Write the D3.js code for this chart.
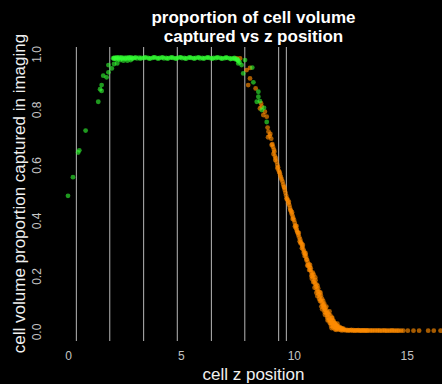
<!DOCTYPE html>
<html>
<head>
<meta charset="utf-8">
<script src="https://cdn.jsdelivr.net/npm/d3@7"></script>
<style>
  body { margin: 0; background: #000; }
  svg { display: block; font-family: "Liberation Sans", Arial, sans-serif; }
</style>
</head>
<body>
<svg id="mainSvg" width="442" height="384"></svg>
<script>
// slice boundaries (z)
var sliceLines = [0.37, 1.85, 3.35, 4.84, 6.35, 7.83, 9.33, 9.67];

var xTicks = [0, 5, 10, 15];
var yTicks = [0, 0.2, 0.4, 0.6, 0.8, 1.0];

// cells that are mostly inside the stack (green)
var greenZ = [0.0, 0.22, 0.45, 0.50, 0.78, 1.34, 1.42, 1.49, 1.49, 1.56, 1.71, 1.79, 1.79, 1.94, 2.04, 2.05,
  2.13, 2.18, 2.30, 2.45, 2.63, 2.78,
  2.00, 2.06, 2.12, 2.20, 2.27, 2.35, 2.42, 2.50, 2.58, 2.65, 2.73, 2.80, 2.88, 2.95, 3.05, 3.15, 3.25, 3.35,
  3.45, 3.55, 3.65, 3.75, 3.85, 3.95, 4.05, 4.15, 4.25, 4.35, 4.45, 4.55, 4.65, 4.75, 4.85, 4.95, 5.05, 5.15,
  5.25, 5.35, 5.45, 5.55, 5.65, 5.75, 5.85, 5.95, 6.05, 6.15, 6.25, 6.35, 6.45, 6.55, 6.65, 6.75, 6.85, 6.95,
  7.05, 7.15, 7.25, 7.33, 7.40, 7.46, 7.52, 7.55, 7.60,
  2.03, 2.16, 2.24, 2.38, 2.54, 2.69, 2.84, 3.00, 3.20, 3.40, 3.60, 3.80, 4.00, 4.20, 4.40, 4.60, 4.80, 5.00,
  5.20, 5.40, 5.60, 5.80, 6.00, 6.20, 6.40, 6.60, 6.80, 7.00, 7.20, 7.37, 7.49,
  7.54, 7.69, 7.76, 7.84, 8.16, 8.21, 8.43, 8.43, 8.50, 8.36, 8.68, 8.58, 8.80];
var greenProp = [0.489, 0.556, 0.645, 0.653, 0.724, 0.828, 0.873, 0.888, 0.867, 0.922, 0.916, 0.934, 0.960, 0.948, 0.964, 0.984,
  0.981, 0.966, 0.978, 0.976, 0.976, 0.978,
  0.985, 0.987, 0.984, 0.986, 0.988, 0.985, 0.983, 0.986, 0.987, 0.984, 0.986, 0.988, 0.985, 0.986, 0.984, 0.987, 0.986, 0.985,
  0.987, 0.986, 0.984, 0.986, 0.988, 0.985, 0.986, 0.987, 0.984, 0.986, 0.985, 0.987, 0.986, 0.984, 0.986, 0.988, 0.985, 0.986,
  0.984, 0.987, 0.986, 0.985, 0.986, 0.987, 0.984, 0.986, 0.985, 0.987, 0.986, 0.984, 0.986, 0.985, 0.987, 0.986, 0.984, 0.985,
  0.986, 0.985, 0.983, 0.984, 0.982, 0.980, 0.978, 0.975, 0.970,
  0.983, 0.988, 0.982, 0.988, 0.983, 0.988, 0.983, 0.988, 0.983, 0.988, 0.983, 0.988, 0.983, 0.988, 0.983, 0.988, 0.983, 0.988,
  0.983, 0.988, 0.983, 0.988, 0.983, 0.988, 0.983, 0.988, 0.983, 0.988, 0.982, 0.986, 0.981,
  0.966, 0.960, 0.930, 0.978, 0.951, 0.898, 0.864, 0.846, 0.830, 0.828, 0.806, 0.798, 0.755];

// cells cut by the top of the stack (orange)
var orangeZ = [7.47, 7.62, 7.91, 8.06, 7.98, 8.31, 8.55, 8.58, 8.72, 8.65, 8.80, 8.50, 8.06,
  8.84, 8.88, 8.93, 8.86, 8.96, 9.00,
  9.05, 9.08, 9.12, 9.10, 9.16, 9.20, 9.14,
  9.24, 9.27, 9.30, 9.33, 9.36, 9.40, 9.43, 9.38,
  9.50, 9.53, 9.56, 9.60, 9.63, 9.66, 9.70, 9.73,
  9.76, 9.80, 9.83, 9.87, 9.90, 9.94, 9.97, 10.01, 9.92,
  10.04, 10.07, 10.10, 10.13, 10.17, 10.20, 10.24, 10.28, 10.12, 10.22,
  10.32, 10.35, 10.38, 10.42, 10.46, 10.50, 10.54, 10.58, 10.40, 10.52, 10.36,
  10.62, 10.66, 10.70, 10.73, 10.77, 10.81, 10.85, 10.60, 10.75, 10.68, 10.88, 10.80,
  10.90, 10.94, 10.98, 11.02, 11.06, 11.10, 11.15, 10.92, 11.05, 11.00, 11.18, 11.12, 10.96,
  11.20, 11.24, 11.28, 11.33, 11.37, 11.42, 11.47, 11.52, 11.22, 11.30, 11.35, 11.40, 11.45, 11.26, 11.50, 11.55, 11.38,
  11.58, 11.62, 11.66, 11.70, 11.75, 11.80, 11.86, 11.92, 12.00, 12.08, 11.60, 11.68, 11.72, 11.78, 11.84, 11.90,
  11.95, 12.02, 12.10, 12.18, 11.50, 11.65, 11.82, 12.15, 12.25,
  9.02, 9.18, 9.28, 9.46, 9.58, 9.68, 9.78, 9.85, 9.95, 10.05, 10.15, 10.26, 10.30, 10.44, 10.48, 10.56,
  10.64, 10.72, 10.78, 10.84, 10.86, 10.95, 11.00, 11.04, 11.08, 11.14, 11.16, 11.20, 11.25, 11.32, 11.36,
  11.44, 11.48, 11.55, 11.58, 11.62, 11.64, 11.70, 11.74, 11.76, 11.82, 11.88, 11.93, 11.98, 12.05, 12.12,
  11.68, 11.88, 12.20,
  12.30, 12.35, 12.40, 12.45, 12.50, 12.55, 12.60, 12.65, 12.70, 12.75, 12.80, 12.85, 12.90, 12.95, 13.00,
  13.05, 13.10, 13.15, 13.20, 13.25, 13.30, 13.38, 13.45, 13.52, 13.60, 13.68, 13.75, 13.82, 13.90, 13.98,
  14.05, 14.12, 14.20, 14.28, 14.35, 14.42, 14.50, 14.58, 14.65, 14.75, 14.85, 15.05, 15.30, 15.55, 15.95,
  16.20, 16.50];
var orangeProp = [0.984, 0.984, 0.942, 0.912, 0.888, 0.876, 0.822, 0.810, 0.792, 0.780, 0.774, 0.804, 0.950,
  0.735, 0.720, 0.705, 0.700, 0.712, 0.695,
  0.675, 0.665, 0.655, 0.640, 0.632, 0.625, 0.648,
  0.612, 0.600, 0.592, 0.580, 0.575, 0.562, 0.555, 0.570,
  0.540, 0.530, 0.522, 0.510, 0.500, 0.490, 0.480, 0.472,
  0.462, 0.455, 0.445, 0.435, 0.425, 0.418, 0.410, 0.402, 0.430,
  0.392, 0.382, 0.372, 0.366, 0.356, 0.348, 0.340, 0.332, 0.380, 0.355,
  0.322, 0.315, 0.305, 0.296, 0.288, 0.278, 0.270, 0.260, 0.312, 0.282, 0.300,
  0.250, 0.242, 0.232, 0.222, 0.214, 0.204, 0.195, 0.238, 0.228, 0.222, 0.205, 0.190,
  0.180, 0.172, 0.162, 0.152, 0.143, 0.134, 0.125, 0.158, 0.165, 0.140, 0.140, 0.118, 0.185,
  0.112, 0.104, 0.095, 0.086, 0.078, 0.068, 0.060, 0.052, 0.090, 0.110, 0.100, 0.085, 0.075, 0.080, 0.068, 0.062, 0.060,
  0.045, 0.040, 0.034, 0.028, 0.022, 0.018, 0.014, 0.010, 0.007, 0.005, 0.030, 0.048, 0.040, 0.032, 0.026, 0.020,
  0.015, 0.012, 0.010, 0.008, 0.040, 0.020, 0.008, 0.004, 0.006,
  0.672, 0.618, 0.588, 0.548, 0.518, 0.478, 0.468, 0.438, 0.405, 0.378, 0.360, 0.325, 0.318, 0.284, 0.272, 0.258,
  0.236, 0.240, 0.200, 0.212, 0.178, 0.195, 0.170, 0.128, 0.155, 0.142, 0.110, 0.130, 0.118, 0.095, 0.070,
  0.090, 0.050, 0.040, 0.072, 0.058, 0.030, 0.050, 0.015, 0.038, 0.030, 0.022, 0.028, 0.018, 0.015, 0.012,
  0.012, 0.006, 0.010,
  0.004, 0.006, 0.003, 0.005, 0.004, 0.006, 0.003, 0.005, 0.003, 0.004, 0.004, 0.005, 0.003, 0.004, 0.003,
  0.004, 0.004, 0.003, 0.004, 0.003, 0.004, 0.003, 0.004, 0.003, 0.004, 0.003, 0.004, 0.003, 0.003, 0.004,
  0.003, 0.003, 0.003, 0.003, 0.004, 0.003, 0.003, 0.003, 0.003, 0.003, 0.003, 0.003, 0.003, 0.003, 0.003,
  0.003, 0.003];

var svg = d3.select("#mainSvg");
svg.append("rect").attr("width", 442).attr("height", 384).attr("fill", "#000");

var x = d3.scaleLinear().domain([0, 15]).range([68, 406.7]);
var y = d3.scaleLinear().domain([0, 1]).range([331.5, 54]);
var plotTop = 47, plotBottom = 341;

// vertical slice lines
svg.selectAll(".slice")
  .data(sliceLines)
  .enter()
  .append("line")
  .attr("class", "slice")
  .attr("x1", function (d) { return x(d); })
  .attr("x2", function (d) { return x(d); })
  .attr("y1", plotTop)
  .attr("y2", plotBottom)
  .attr("stroke", "#b8b8b8")
  .attr("stroke-width", 1);

function drawPoints(zs, ps, colour, opacity, cls) {
  svg.selectAll("." + cls)
    .data(zs)
    .enter()
    .append("circle")
    .attr("class", cls)
    .attr("cx", function (d) { return x(d); })
    .attr("cy", function (d, i) { return y(ps[i]); })
    .attr("r", 2.4)
    .attr("fill", colour)
    .attr("fill-opacity", opacity);
}
drawPoints(orangeZ, orangeProp, "#ff8c00", 0.65, "orangePt");
drawPoints(greenZ, greenProp, "#33ff33", 0.6, "greenPt");

// x axis (labels only)
var xAxis = svg.append("g")
  .attr("transform", "translate(0," + plotBottom + ")")
  .call(d3.axisBottom(x).tickValues(xTicks).tickSize(0).tickPadding(10.5).tickFormat(d3.format("d")));
xAxis.select(".domain").remove();
xAxis.selectAll("text").attr("fill", "#c4c4c4").style("font-size", "12px");

// y axis (rotated labels)
var yAxis = svg.append("g")
  .attr("transform", "translate(41,0)")
  .call(d3.axisLeft(y).tickValues(yTicks).tickSize(0).tickFormat(d3.format(".1f")));
yAxis.select(".domain").remove();
yAxis.selectAll("text")
  .attr("x", 0).attr("dy", 0)
  .attr("text-anchor", "middle")
  .attr("transform", "rotate(-90)")
  .attr("fill", "#c4c4c4")
  .style("font-size", "12px");

// titles
svg.append("text")
  .attr("x", 253.5).attr("y", 23)
  .attr("text-anchor", "middle")
  .attr("fill", "#fff")
  .style("font-size", "17px").style("font-weight", "bold")
  .text("proportion of cell volume");
svg.append("text")
  .attr("x", 253.5).attr("y", 41.5)
  .attr("text-anchor", "middle")
  .attr("fill", "#fff")
  .style("font-size", "17px").style("font-weight", "bold")
  .text("captured vs z position");

svg.append("text")
  .attr("x", 253.5).attr("y", 380)
  .attr("text-anchor", "middle")
  .attr("fill", "#f0f0f0")
  .style("font-size", "17px")
  .text("cell z position");

svg.append("text")
  .attr("transform", "translate(24.5,193.5) rotate(-90)")
  .attr("text-anchor", "middle")
  .attr("fill", "#f0f0f0")
  .style("font-size", "17px")
  .text("cell volume proportion captured in imaging");
</script>
</body>
</html>
